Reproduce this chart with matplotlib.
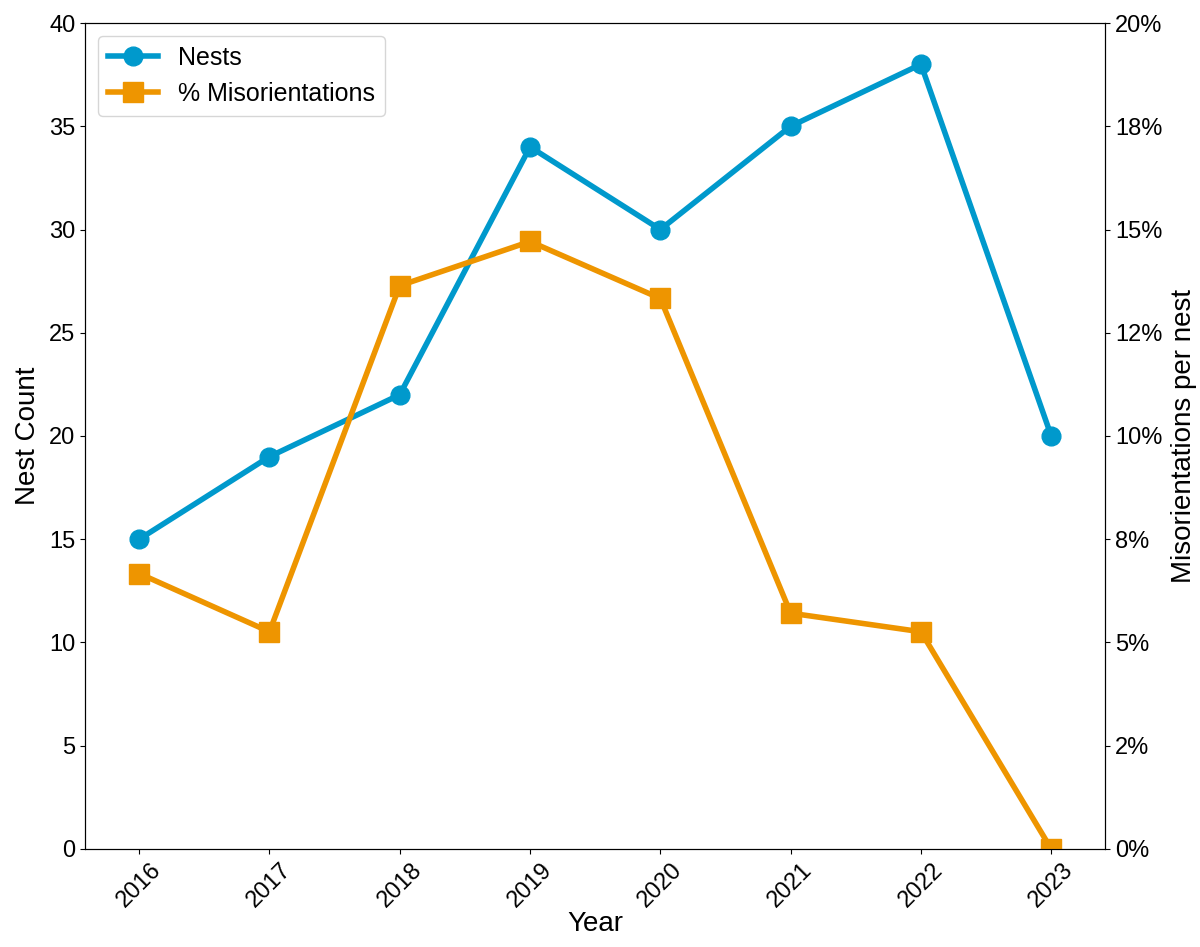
import matplotlib
matplotlib.use("Agg")
import matplotlib.pyplot as plt
from matplotlib.ticker import FuncFormatter

plt.rcParams['font.family'] = ['Liberation Sans', 'DejaVu Sans']

years = [2016, 2017, 2018, 2019, 2020, 2021, 2022, 2023]
nests = [15, 19, 22, 34, 30, 35, 38, 20]
misorient_pct = [6.67, 5.26, 13.64, 14.71, 13.33, 5.71, 5.26, 0.0]

blue = '#0099CC'
orange = '#EE9500'

fig, ax = plt.subplots(figsize=(12, 9.47), dpi=100)
fig.subplots_adjust(left=0.071, right=0.921, top=0.9757, bottom=0.1035)
ax2 = ax.twinx()

l1, = ax.plot(years, nests, color=blue, marker='o', linewidth=4, markersize=13.5, label='Nests')
l2, = ax2.plot(years, misorient_pct, color=orange, marker='s', linewidth=4, markersize=14,
               label='% Misorientations')

ax.set_xlim(2015.586, 2023.414)
ax.set_ylim(0, 40)
ax2.set_ylim(0, 20)
ax2.set_yticks([0, 2.5, 5, 7.5, 10, 12.5, 15, 17.5, 20])
ax2.yaxis.set_major_formatter(FuncFormatter(lambda v, p: '{:.0f}%'.format(v)))

ax.set_xticks(years)
ax.set_xticklabels([str(y) for y in years], rotation=45, fontsize=17)
ax.tick_params(axis='y', labelsize=17)
ax2.tick_params(axis='y', labelsize=17)

ax.set_xlabel('Year', fontsize=20, labelpad=0)
ax.set_ylabel('Nest Count', fontsize=20, labelpad=6)
ax2.set_ylabel('Misorientations per nest', fontsize=20, labelpad=6)

ax2.legend([l1, l2], ['Nests', '% Misorientations'], loc='upper left', fontsize=18)

plt.savefig('out.png')
